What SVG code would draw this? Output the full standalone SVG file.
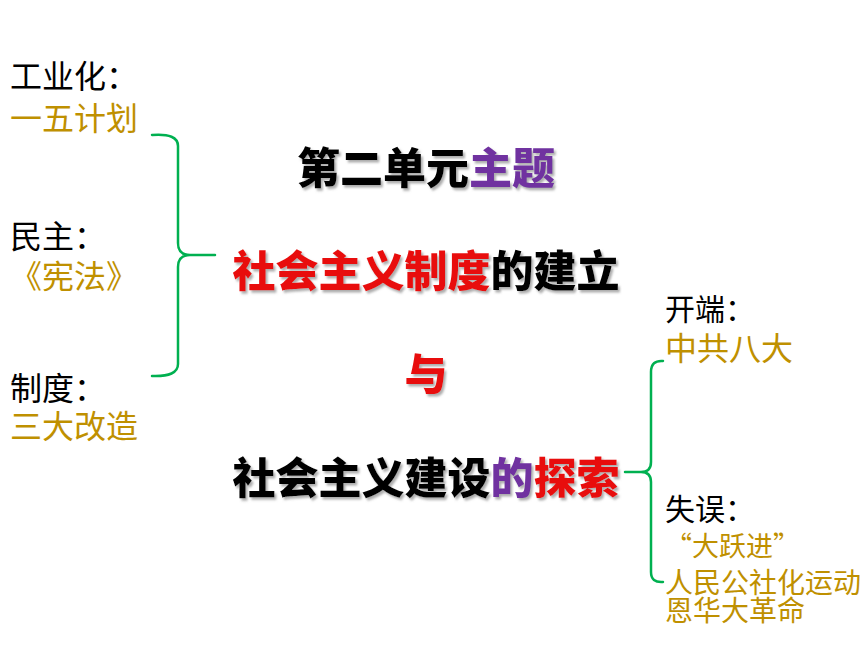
<svg xmlns="http://www.w3.org/2000/svg" width="860" height="660" viewBox="0 0 860 660">
<defs>
<style>
.lbl{font-family:"Noto Sans CJK SC","Noto Sans",sans-serif;font-size:32px;fill:#000}
.gold{fill:#BF9000}
.hv{font-family:"Noto Sans CJK SC","Noto Sans",sans-serif;font-size:43px;font-weight:900;text-anchor:middle;fill:#000}
.red{fill:#E8100E}
.pur{fill:#7030A0}
.brace{fill:none;stroke:#00B050;stroke-width:2.5;stroke-linecap:round;stroke-linejoin:round}
</style>
<filter id="sh" x="-10%" y="-30%" width="120%" height="160%">
<feDropShadow dx="2" dy="2.5" stdDeviation="1.2" flood-color="#777" flood-opacity="0.6"/>
</filter>
</defs>
<rect width="860" height="660" fill="#fff"/>
<g id="connectors">
<path class="brace" d="M152,135 Q178,133 178,146 V243 Q178,255 190,255 H215 M190,255 Q178,255 178,267 V364 Q178,377 152,376"/>
<path class="brace" d="M663,361 Q651,360 651,372 V462 Q651,472 641,472 H625 M641,472 Q651,472 651,482 V572 Q651,583 663,582"/>
</g>
<g id="industry">
<text class="lbl" x="10" y="88">工业化：</text>
<text class="lbl gold" x="10" y="130">一五计划</text>
</g>
<g id="democracy">
<text class="lbl" x="10" y="248">民主：</text>
<text class="lbl gold" x="10" y="288">《宪法》</text>
</g>
<g id="system">
<text class="lbl" x="10" y="400">制度：</text>
<text class="lbl gold" x="10" y="438">三大改造</text>
</g>
<g id="title" filter="url(#sh)">
<text class="hv" x="426" y="184">第二单元<tspan class="pur">主题</tspan></text>
</g>
<g id="establish" filter="url(#sh)">
<text class="hv" x="426" y="287"><tspan class="red">社会主义制度</tspan>的建立</text>
</g>
<g id="and" filter="url(#sh)">
<text class="hv red" x="426" y="390">与</text>
</g>
<g id="explore" filter="url(#sh)">
<text class="hv" x="426" y="494">社会主义建设<tspan class="pur">的</tspan><tspan class="red">探索</tspan></text>
</g>
<g id="start">
<text class="lbl" x="665" y="320" style="font-size:30px">开端：</text>
<text class="lbl gold" x="665" y="360">中共八大</text>
</g>
<g id="mistake">
<text class="lbl" x="665" y="520" style="font-size:30px">失误：</text>
<text class="lbl gold" x="665" y="556" style="font-size:27px">“大跃进”</text>
<text class="lbl gold" x="665" y="593" style="font-size:28px">人民公社化运动</text>
<text class="lbl gold" x="665" y="621" style="font-size:28px">恩华大革命</text>
</g>
</svg>
